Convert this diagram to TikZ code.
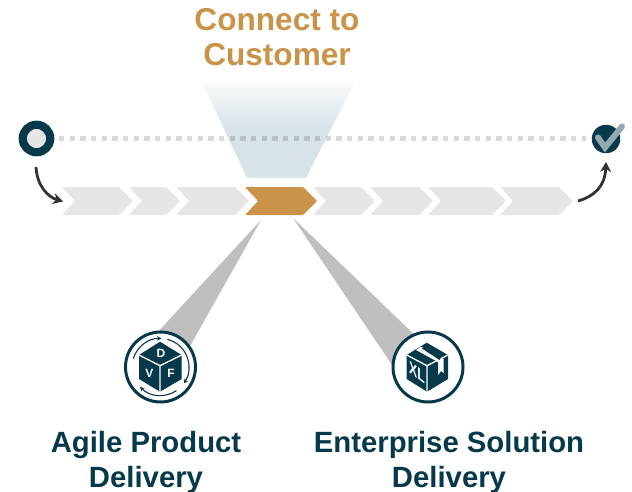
\documentclass[tikz,border=0pt]{standalone}
\usepackage{fontspec}
\setmainfont{Liberation Sans}
\usetikzlibrary{arrows.meta,calc}
\definecolor{teal}{HTML}{063A4A}
\definecolor{gold}{HTML}{C99349}
\definecolor{chevgray}{HTML}{E6E6E6}
\definecolor{beam}{HTML}{BFBFBF}
\definecolor{checkc}{HTML}{93A9AE}
\definecolor{arrowc}{HTML}{333333}
\definecolor{funnelc}{HTML}{D8E3E8}
\pgfdeclareverticalshading{funnelshade}{100bp}{color(0bp)=(funnelc); color(50bp)=(funnelc); color(75bp)=(white!85!funnelc); color(100bp)=(white!85!funnelc)}
\tikzset{
  headline/.style={text=gold,font=\bfseries\fontsize{31.6}{35}\selectfont,align=center},
  tagline/.style={text=teal,font=\bfseries\fontsize{29.3}{35}\selectfont,align=center},
  flowarrow/.style={draw=arrowc,line width=2.8pt,-{Stealth[length=10pt,width=11pt]}},
  chev/.style={fill=chevgray,rounded corners=1pt},
  ringc/.style={draw=teal,line width=3pt,fill=white},
  cubeletter/.style={text=white,font=\bfseries\fontsize{12}{12}\selectfont,inner sep=0pt},
  cyc/.style={draw=teal,line width=1.1pt,-{Stealth[length=4.5pt,width=4.5pt]}},
  gapline/.style={draw=white,line width=1.3pt},
}
\newcommand{\chevron}[3][chev]{\path[#1] (#2,187) -- (#3-14,187) -- (#3,201) -- (#3-14,215) -- (#2,215) -- (#2+13,201) -- cycle;}
\begin{document}
\begin{tikzpicture}[x=1pt,y=-1pt]
\useasboundingbox (0,0) rectangle (632,492);
% funnel
\shade[shading=funnelshade] (202,82) -- (355,82) -- (306,178) -- (247,178) -- cycle;
% dotted path
\coordinate (dotA) at (59,138.7);
\coordinate (dotB) at (586,138.7);
\draw[black,opacity=.15,line width=5.2pt,dash pattern=on 5.2pt off 5.47pt] (dotA) -- (dotB);
% start and finish
\node[circle,draw=teal,line width=8.2pt,fill=chevgray,minimum size=27.5pt,inner sep=0pt] (start) at (36.5,138.5) {};
\node[circle,fill=teal,minimum size=28.5pt,inner sep=0pt] (finish) at (606,139) {};
\draw[checkc,line width=6pt,line cap=round,line join=miter] (598,137.5) -- (605,147.5) -- (622,126.5);
% chevrons
\chevron{62}{133}
\chevron{129}{180}
\chevron{176}{249}
\chevron[chev,fill=gold]{245}{317}
\chevron{313}{375}
\chevron{370}{433}
\chevron{428}{506}
\chevron{500}{573}
% flow arrows
\coordinate (flowIn) at (63,201.5);
\coordinate (flowOut) at (578,201);
\draw[flowarrow] (36,167) .. controls (37,186) and (48,197) .. (flowIn);
\draw[flowarrow] (flowOut) .. controls (595,196) and (605,186) .. (606,162);
% beams
\fill[beam] (261,220) -- (155,335) -- (185,355) -- cycle;
\fill[beam] (293,218) -- (420,340) -- (392,365) -- cycle;
% left icon
\node[circle,ringc,minimum size=70pt,inner sep=0pt] (agile) at (160.5,367) {};
\fill[teal] (160,341.7) -- (181.7,355) -- (181.7,379) -- (160,391.7) -- (139,379) -- (139,355) -- cycle;
\draw[gapline] (139,355) -- (160,365.7) -- (181.7,355) (160,365.7) -- (160,391.7);
\node[cubeletter] (d) at (161,353.5) {D};
\node[cubeletter] (v) at (149.5,373.5) {V};
\node[cubeletter] (f) at (171,373.5) {F};
\draw[cyc] ($(agile)+(-163:28.5)$) arc[start angle=-163,end angle=-88,radius=28.5];
\draw[cyc] ($(agile)+(-76:28.5)$) arc[start angle=-76,end angle=35,radius=28.5];
\draw[cyc] ($(agile)+(56:28.5)$) arc[start angle=56,end angle=136,radius=28.5];
% right icon
\node[circle,ringc,minimum size=70pt,inner sep=0pt] (xl) at (428,367) {};
\fill[teal] (426.7,342.7) -- (448,355) -- (448,379) -- (427,391.7) -- (406.7,379) -- (406.7,355) -- cycle;
\draw[gapline] (406.7,355) -- (427,365.7) -- (448,355) (427,365.7) -- (427,391.7);
\fill[white] (416,350) -- (421,346.7) -- (443.5,359) -- (443.5,373) -- (441,371) -- (438,375) -- (438,362) -- cycle;
\fill[teal] (422,348.5) -- (425,347) -- (441.5,356.5) -- (439.5,360) -- cycle;
\node[cubeletter,font=\bfseries\fontsize{17}{17}\selectfont,xscale=.72,yslant=-.55] (xllabel) at (417,372.5) {XL};
% labels
\node[headline] (title) at (277,37) {Connect to\\Customer};
\node[tagline] (agileLabel) at (146,462) {Agile Product\\Delivery};
\node[tagline] (xlLabel) at (449,462) {Enterprise Solution\\Delivery};
\end{tikzpicture}
\end{document}
